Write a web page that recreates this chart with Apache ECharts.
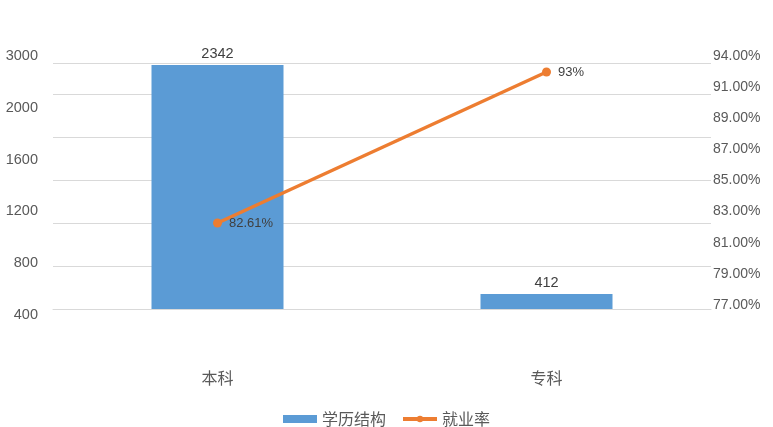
<!DOCTYPE html>
<html>
<head>
<meta charset="utf-8">
<script src="https://cdn.jsdelivr.net/npm/echarts@6/dist/echarts.min.js"></script>
<style>
  html, body { margin: 0; padding: 0; background: #fff; }
  #chart { width: 773px; height: 427px; }
</style>
</head>
<body>
<div id="chart"></div>
<script>
// 数据
const categories = ['本科', '专科'];
const headcount = [2342, 412];
const employmentRate = [82.61, 93];
const rateLabels = ['82.61%', '93%'];
const leftTicks = ['400', '800', '1200', '1600', '2000', '3000'];
const rightTicks = ['77.00%', '79.00%', '81.00%', '83.00%', '85.00%', '87.00%', '89.00%', '91.00%', '94.00%'];

const FONT = "'Liberation Sans', Arial, 'Noto Sans CJK SC', sans-serif";
const CJK = "'Noto Sans CJK SC', sans-serif";
const TEXT = '#595959';

const chart = echarts.init(document.getElementById('chart'));

chart.setOption({
  animation: false,
  textStyle: { fontFamily: FONT },
  grid: [
    // 柱子 + 折线 + 网格线
    { left: 53, right: 62, top: 63, bottom: 118 },
    // 左侧刻度文字
    { left: 46, right: 62, top: 56, bottom: 112 },
    // 右侧刻度文字
    { left: 53, right: 68, top: 56, bottom: 122 }
  ],
  legend: {
    top: 406,
    left: 'center',
    itemWidth: 34,
    itemHeight: 8,
    itemGap: 15,
    textStyle: { fontSize: 16, color: TEXT, fontFamily: CJK },
    data: [
      { name: '学历结构', icon: 'rect' },
      { name: '就业率', lineStyle: { width: 4 } }
    ]
  },
  xAxis: [
    {
      gridIndex: 0,
      type: 'category',
      data: categories,
      axisLine: { lineStyle: { color: '#d9d9d9' } },
      axisTick: { show: false },
      axisLabel: { margin: 61, fontSize: 16, color: TEXT, fontFamily: CJK }
    },
    { gridIndex: 1, type: 'value', show: false },
    { gridIndex: 2, type: 'value', show: false }
  ],
  yAxis: [
    { gridIndex: 0, type: 'value', min: 286, max: 2359, show: false },
    { gridIndex: 0, type: 'value', min: 76.69, max: 93.62, show: false },
    {
      gridIndex: 0,
      type: 'value',
      min: 0,
      max: 246 / 43,
      interval: 1,
      axisLine: { show: false },
      axisTick: { show: false },
      axisLabel: { show: false },
      splitLine: { lineStyle: { color: '#d9d9d9' } }
    },
    {
      gridIndex: 1,
      type: 'category',
      position: 'left',
      data: leftTicks,
      boundaryGap: false,
      axisLine: { show: false },
      axisTick: { show: false },
      splitLine: { show: false },
      axisLabel: { interval: 0, margin: 8, fontSize: 14.5, color: TEXT }
    },
    {
      gridIndex: 2,
      type: 'category',
      position: 'right',
      data: rightTicks,
      boundaryGap: false,
      axisLine: { show: false },
      axisTick: { show: false },
      splitLine: { show: false },
      axisLabel: { interval: 0, margin: 8, fontSize: 14, color: TEXT }
    }
  ],
  series: [
    {
      name: '学历结构',
      type: 'bar',
      xAxisIndex: 0,
      yAxisIndex: 0,
      data: headcount,
      barWidth: 132,
      itemStyle: { color: '#5B9BD5' },
      label: { show: true, position: 'top', distance: 4, fontSize: 14.5, color: '#404040' }
    },
    {
      name: '就业率',
      type: 'line',
      xAxisIndex: 0,
      yAxisIndex: 1,
      data: employmentRate,
      symbol: 'circle',
      symbolSize: 9,
      itemStyle: { color: '#ED7D31' },
      lineStyle: { color: '#ED7D31', width: 3.5 },
      label: {
        show: true,
        position: 'right',
        distance: 7,
        fontSize: 13,
        color: '#404040',
        formatter: p => rateLabels[p.dataIndex]
      }
    }
  ]
});
</script>
</body>
</html>
